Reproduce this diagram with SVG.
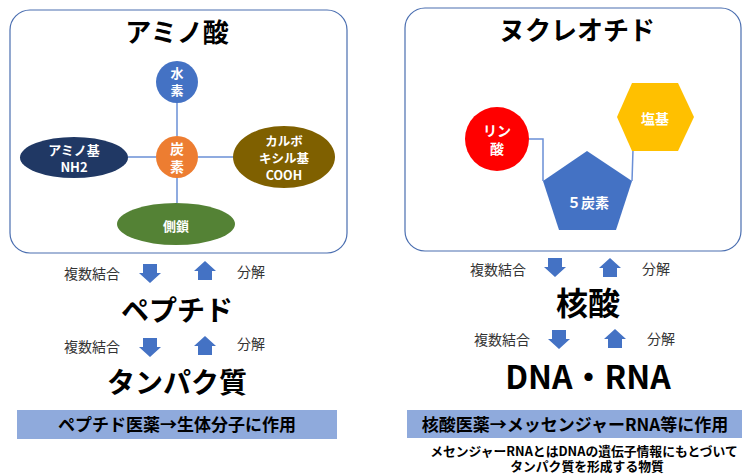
<svg xmlns="http://www.w3.org/2000/svg" xmlns:xlink="http://www.w3.org/1999/xlink" width="742" height="475" viewBox="0 0 742 475">
<style>
text{font-family:"Noto Sans CJK JP","Noto Sans",sans-serif;text-anchor:middle}
.panel{fill:#fff;stroke:#4a6eb0;stroke-width:1.2}
.t{font-weight:bold;fill:#000}
.w{font-weight:bold;fill:#fff}
.s{font-size:14px;fill:#333}
.conn{stroke:#6a8fd6;stroke-width:1.5;fill:none}
.arr{fill:#4472c4}
.bar{fill:#8faadc}
</style>
<defs>
<path id="down" d="M4,0 H18 V9 H22 L11,19 L0,9 H4 Z"/>
<path id="up" d="M11,0 L22,10 H18 V19 H4 V10 H0 Z"/>
</defs>
<rect class="panel" x="10" y="10" width="337" height="243" rx="20"/>
<rect class="panel" x="405" y="8" width="336" height="243" rx="20"/>
<text class="t" x="177" y="41.5" font-size="26">アミノ酸</text>
<text class="t" x="577" y="39.5" font-size="26">ヌクレオチド</text>
<g id="connectors">
<line class="conn" x1="177" y1="103" x2="177" y2="136"/>
<line class="conn" x1="177" y1="178" x2="177" y2="203"/>
<line class="conn" x1="128" y1="157" x2="156" y2="157"/>
<line class="conn" x1="198" y1="157" x2="233" y2="157"/>
<polyline class="conn" points="529,139 543,139 543,181"/>
<polyline class="conn" points="633,150 632,181"/>
</g>
<g id="hydrogen">
<circle cx="177" cy="82" r="21" fill="#4472c4"/>
<text class="w" font-size="13"><tspan x="177" y="77.5">水</tspan><tspan x="177" y="94.5">素</tspan></text>
</g>
<g id="carbon">
<circle cx="177" cy="157" r="21" fill="#ed7d31"/>
<text class="w" font-size="14"><tspan x="177" y="153.5">炭</tspan><tspan x="177" y="171.5">素</tspan></text>
</g>
<g id="amino">
<ellipse cx="74" cy="157.5" rx="54" ry="20.5" fill="#203864"/>
<text class="w" font-size="13"><tspan x="74" y="154.5">アミノ基</tspan><tspan x="74" y="172">NH2</tspan></text>
</g>
<g id="carboxyl">
<ellipse cx="284" cy="157" rx="51" ry="31" fill="#7f6000"/>
<text class="w" font-size="12.5"><tspan x="284" y="145.5">カルボ</tspan><tspan x="284" y="162.5">キシル基</tspan><tspan x="284" y="179.5">COOH</tspan></text>
</g>
<g id="sidechain">
<ellipse cx="176" cy="224" rx="59" ry="21" fill="#548235"/>
<text class="w" x="176" y="231" font-size="13">側鎖</text>
</g>
<g id="phosphate">
<circle cx="497" cy="139" r="32" fill="#ff0000"/>
<text class="w" font-size="14"><tspan x="497" y="136">リン</tspan><tspan x="497" y="153.5">酸</tspan></text>
</g>
<g id="sugar">
<polygon points="587,151 632,181 616,230 559,230 543,181" fill="#4472c4"/>
<text class="w" x="588" y="207.5" font-size="14">５炭素</text>
</g>
<g id="base">
<polygon points="632,83 678,83 694,117 678,151 632,151 617,117" fill="#ffc000"/>
<text class="w" x="655" y="123.5" font-size="14">塩基</text>
</g>
<g id="left-flow">
<text class="s" x="92" y="279">複数結合</text>
<use href="#down" class="arr" x="139" y="264"/>
<use href="#up" class="arr" x="194" y="261"/>
<text class="s" x="251" y="277">分解</text>
<text class="t" x="177" y="320.5" font-size="28">ペプチド</text>
<text class="s" x="92" y="352">複数結合</text>
<use href="#down" class="arr" x="139" y="338"/>
<use href="#up" class="arr" x="194" y="336"/>
<text class="s" x="251" y="349">分解</text>
<text class="t" x="177" y="393" font-size="28">タンパク質</text>
<rect class="bar" x="17" y="410" width="320" height="29"/>
<text class="t" x="177" y="431" font-size="17">ペプチド医薬→生体分子に作用</text>
</g>
<g id="right-flow">
<text class="s" x="498" y="275">複数結合</text>
<use href="#down" class="arr" x="544" y="258"/>
<use href="#up" class="arr" x="599" y="258"/>
<text class="s" x="656" y="274">分解</text>
<text class="t" x="588" y="315" font-size="32">核酸</text>
<text class="s" x="502" y="345">複数結合</text>
<use href="#down" class="arr" x="548" y="330"/>
<use href="#up" class="arr" x="604" y="329"/>
<text class="s" x="661" y="344">分解</text>
<text class="t" x="588" y="389" font-size="32">DNA・RNA</text>
<rect class="bar" x="407" y="410" width="335" height="28"/>
<text class="t" x="575" y="430.5" font-size="17">核酸医薬→メッセンジャーRNA等に作用</text>
<text class="t" font-size="12.8"><tspan x="584" y="456">メセンジャーRNAとはDNAの遺伝子情報にもとづいて</tspan><tspan x="587" y="470.5">タンパク質を形成する物質</tspan></text>
</g>
</svg>
